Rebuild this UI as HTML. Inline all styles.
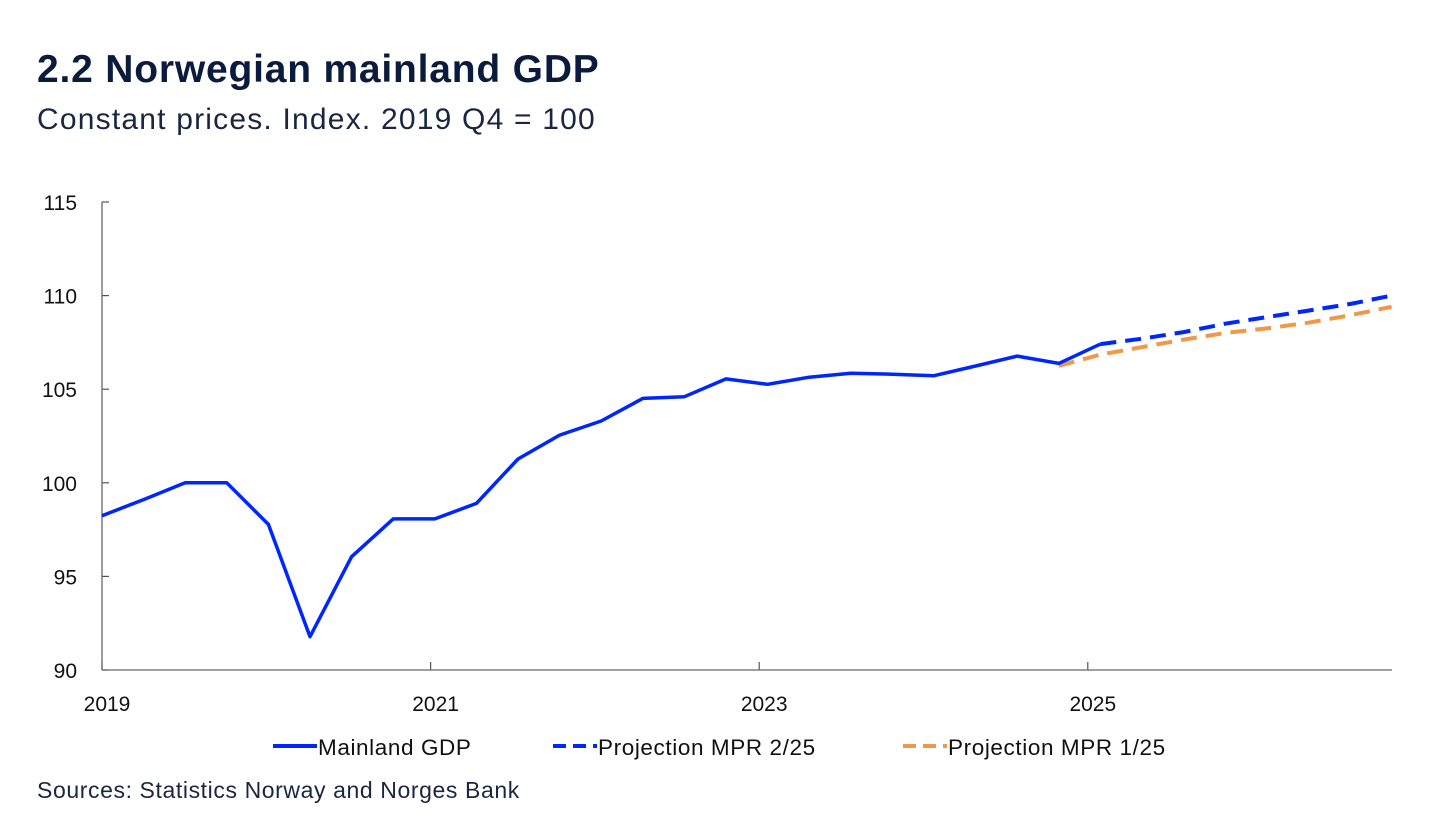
<!DOCTYPE html>
<html><head><meta charset="utf-8"><style>
body{margin:0;background:#fff;font-family:"Liberation Sans",sans-serif;color:#0b1b3d}
#t{position:absolute;left:37px;top:48px;font-size:39px;font-weight:bold;letter-spacing:0.8px}
#s{position:absolute;left:37px;top:103px;font-size:30px;color:#1a2540;letter-spacing:1.2px}
#src{position:absolute;left:37px;top:777px;font-size:23px;color:#1a2540;letter-spacing:0.6px}
</style></head><body>
<div id="t">2.2 Norwegian mainland GDP</div>
<div id="s">Constant prices. Index. 2019 Q4 = 100</div>
<svg id="c" width="1445" height="819" style="position:absolute;left:0;top:0"></svg>
<div id="src">Sources: Statistics Norway and Norges Bank</div>
<script>
const gdp=[98.24,99.1,100,100,97.78,91.78,96.05,98.07,98.07,98.9,101.27,102.55,103.3,104.51,104.6,105.55,105.26,105.64,105.85,105.8,105.72,106.24,106.77,106.38,107.41];
const proj2=[107.41,107.7,108.05,108.5,108.85,109.2,109.55,110.0];
const proj2Start=24;
const proj1=[106.25,106.85,107.25,107.65,108.0,108.25,108.55,108.95,109.4];
const proj1Start=23;
const yTicks=[90,95,100,105,110,115];
const xTicks=[2019,2021,2023,2025];
const NS="http://www.w3.org/2000/svg",svg=document.getElementById('c');
const X0=102,X1=1392,Y0=670,Y1=202;
const yS=v=>Y0-(v-90)/25*(Y0-Y1);
const yrX=yr=>X0+(yr-2019)*164.3;
const qX=i=>X0+i*41.6;
function mk(tag,a,p){const e=document.createElementNS(NS,tag);for(const k in a)e.setAttribute(k,a[k]);(p||svg).appendChild(e);return e;}
yTicks.forEach(v=>{
 const l=mk('line',{x1:X0,x2:X0+7,y1:yS(v),y2:yS(v),stroke:'#555','stroke-width':1.2});
 
 
 const t=mk('text',{x:77,y:yS(v)+8,'text-anchor':'end','font-size':21,fill:'#111','font-family':'Liberation Sans'});
 t.textContent=v;
 
 
});
xTicks.forEach(y=>{
 const l=mk('line',{x1:yrX(y),x2:yrX(y),y1:Y0,y2:Y0-8,stroke:'#555','stroke-width':1.2});
 
 
 const t=mk('text',{x:yrX(y)+5,y:711,'text-anchor':'middle','font-size':21,fill:'#111','font-family':'Liberation Sans'});
 t.textContent=y;
 
 
});
const ya=mk('line',{x1:X0,x2:X0,y1:Y1,y2:Y0,stroke:'#666','stroke-width':1.3});


const xa=mk('line',{x1:X0,x2:X1,y1:Y0,y2:Y0,stroke:'#666','stroke-width':1.3});


function pts(arr,s){return arr.map((v,i)=>qX(s+i).toFixed(1)+','+yS(v).toFixed(1)).join(' ');}
const p1=mk('polyline',{points:pts(proj1,proj1Start),fill:'none',stroke:'#f0984a','stroke-width':4,'stroke-dasharray':'16,9'});


const p2=mk('polyline',{points:pts(proj2,proj2Start),fill:'none',stroke:'#0026ff','stroke-width':4,'stroke-dasharray':'16,9'});


const g=mk('polyline',{points:pts(gdp,0),fill:'none',stroke:'#0026ff','stroke-width':3.5,'stroke-linejoin':'round'});


const leg=[['Mainland GDP','#0026ff',null,273],['Projection MPR 2/25','#0026ff','13,7',553],['Projection MPR 1/25','#f0984a','13,7',903]];
leg.forEach(([txt,c,d,x])=>{
 const a={x1:x,x2:x+44,y1:746,y2:746,stroke:c,'stroke-width':4};if(d)a['stroke-dasharray']=d;
 const l=mk('line',a);
 
 
 const t=mk('text',{x:x+45,y:755,'font-size':22.5,fill:'#111','font-family':'Liberation Sans','letter-spacing':0.6});
 t.textContent=txt;
 
 
});
</script>
</body></html>
